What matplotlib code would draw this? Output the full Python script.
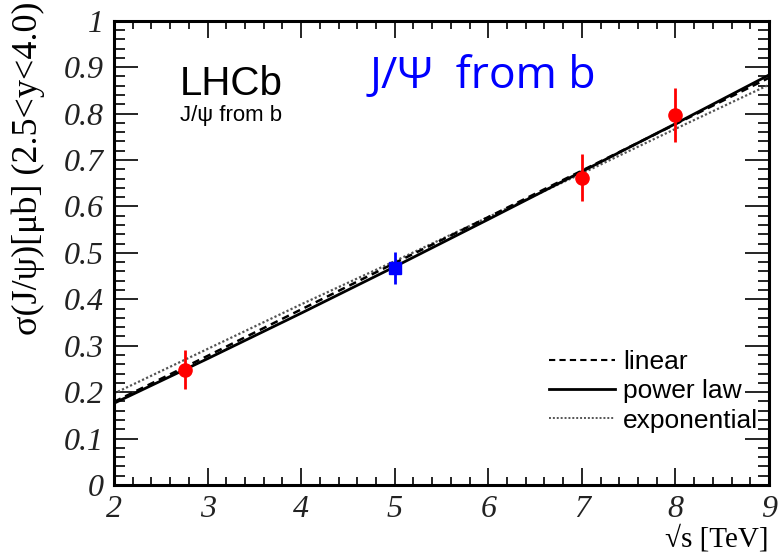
import matplotlib
matplotlib.use('Agg')
import matplotlib.pyplot as plt
from matplotlib.lines import Line2D
from matplotlib.ticker import MultipleLocator

# measured cross-sections (sqrt(s) in TeV, sigma in microbarn)
sqrt_s = [2.76, 7.0, 8.0]
sigma = [0.248, 0.662, 0.796]
sigma_err = [0.042, 0.050, 0.058]

# interpolated point at 5 TeV
s_interp = [5.0]
sigma_interp = [0.467]
sigma_interp_err = [0.035]

# fit curves
fit_x = [2, 3, 4, 5, 6, 7, 8, 9]
fit_linear = [0.179, 0.278, 0.378, 0.478, 0.577, 0.677, 0.777, 0.877]
fit_power = [0.176, 0.272, 0.370, 0.470, 0.572, 0.675, 0.778, 0.883]
fit_expo = [0.197, 0.293, 0.389, 0.482, 0.577, 0.671, 0.767, 0.862]

serif = ['Liberation Serif', 'DejaVu Serif']
sans = ['Liberation Sans', 'DejaVu Sans']

fig = plt.figure(figsize=(7.78, 5.59), dpi=100)
ax = fig.add_axes([0.1465, 0.1324, 0.8419, 0.8306])

ax.plot(fit_x, fit_expo, color='#555555', lw=1.6, ls=(0, (1, 1)))
ax.plot(fit_x, fit_linear, color='black', lw=1.8, ls=(0, (3, 2)))
ax.plot(fit_x, fit_power, color='black', lw=2.0, ls='-')

ax.errorbar(sqrt_s, sigma, yerr=sigma_err, fmt='o', color='red',
            ms=9.5, elinewidth=2, capsize=0, zorder=5)
ax.errorbar(s_interp, sigma_interp, yerr=sigma_interp_err, fmt='s',
            color='blue', ms=8.5, elinewidth=2, capsize=0, zorder=5)

ax.set_xlim(2, 9)
ax.set_ylim(0, 1)
ax.xaxis.set_major_locator(MultipleLocator(1))
ax.xaxis.set_minor_locator(MultipleLocator(0.2))
ax.yaxis.set_major_locator(MultipleLocator(0.1))
ax.yaxis.set_minor_locator(MultipleLocator(0.02))
ax.tick_params(which='both', direction='in', top=True, right=True,
               width=1.2, color='black')
ax.tick_params(axis='x', which='major', length=12)
ax.tick_params(axis='x', which='minor', length=6)
ax.tick_params(axis='y', which='major', length=17)
ax.tick_params(axis='y', which='minor', length=8)
ax.tick_params(axis='y', pad=7)
ax.tick_params(axis='x', pad=7)
for sp in ax.spines.values():
    sp.set_linewidth(2.2)

ax.xaxis.set_major_formatter(plt.FuncFormatter(lambda v, p: '%g' % v))
ax.yaxis.set_major_formatter(plt.FuncFormatter(lambda v, p: '%g' % v))
for lab in ax.get_xticklabels() + ax.get_yticklabels():
    lab.set_family(serif)
    lab.set_style('italic')
    lab.set_fontsize(23)
    lab.set_color('#222222')

fig.text(0.036, 0.997, u'σ(J/ψ)[μb] (2.5<y<4.0)', rotation=90,
         ha='center', va='top', family=serif, fontsize=26)
fig.text(0.988, 0.012, u'√s [TeV]', ha='right', va='bottom',
         family=serif, fontsize=21)

ax.text(0.100, 0.84, 'LHCb', transform=ax.transAxes, family=sans,
        fontsize=29, ha='left', va='baseline')
ax.text(0.101, 0.785, u'J/ψ from b', transform=ax.transAxes, family=sans,
        fontsize=16, ha='left', va='baseline')
ax.text(0.39, 0.855, u'J/Ψ  from b', transform=ax.transAxes,
        family=['Open Sans', 'DejaVu Sans'], fontsize=32, color='blue',
        ha='left', va='baseline')

handles = [Line2D([], [], color='black', lw=1.5, ls=(0, (3, 2))),
           Line2D([], [], color='black', lw=2.0),
           Line2D([], [], color='#555555', lw=1.4, ls=(0, (1, 1)))]
leg = ax.legend(handles, ['linear', 'power law', 'exponential'],
                loc='lower right', bbox_to_anchor=(1.0, 0.09),
                frameon=False, prop={'family': sans, 'size': 19},
                handlelength=2.5, handletextpad=0.3, labelspacing=0.2,
                borderaxespad=0.0)

fig.savefig('out.png', dpi=100)
